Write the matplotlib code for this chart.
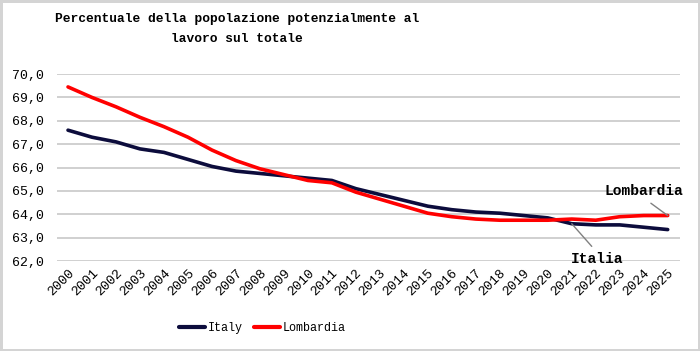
import matplotlib.pyplot as plt
from matplotlib.ticker import FuncFormatter

# Dati
anni = [str(a) for a in range(2000, 2026)]
italy = [67.6, 67.3, 67.1, 66.8, 66.65, 66.35, 66.05, 65.85, 65.75, 65.65,
         65.55, 65.45, 65.1, 64.85, 64.6, 64.35, 64.2, 64.1, 64.05, 63.95,
         63.85, 63.6, 63.55, 63.55, 63.45, 63.35]
lombardia = [69.45, 69.0, 68.6, 68.15, 67.75, 67.3, 66.75, 66.3, 65.95, 65.7,
             65.45, 65.35, 64.95, 64.65, 64.35, 64.05, 63.9, 63.8, 63.75, 63.75,
             63.75, 63.8, 63.75, 63.9, 63.95, 63.95]
y_ticks = [62, 63, 64, 65, 66, 67, 68, 69, 70]

mono = 'Liberation Mono'
x = list(range(len(anni)))

fig = plt.figure(figsize=(7, 3.51), dpi=100, edgecolor='#d4d4d4', linewidth=2.5)
ax = fig.add_axes([0.0814, 0.256, 0.8896, 0.533])

ax.plot(x, italy, color='#0c0c3c', lw=2.6, solid_capstyle='round', solid_joinstyle='round', label='Italy', zorder=3)
ax.plot(x, lombardia, color='#ff0000', lw=2.6, solid_capstyle='round', solid_joinstyle='round', label='Lombardia', zorder=3)

ax.set_xlim(-0.46, 25.5)
ax.set_ylim(62, 70)
ax.set_yticks(y_ticks)
ax.yaxis.set_major_formatter(FuncFormatter(lambda v, p: f'{v:.1f}'.replace('.', ',')))
ax.set_xticks(x)
ax.set_xticklabels(anni, rotation=45, ha='right', va='top', rotation_mode='anchor')
ax.tick_params(length=0, labelsize=9.5)
ax.tick_params(axis='y', pad=9)
ax.tick_params(axis='x', pad=4)
for lab in ax.get_xticklabels() + ax.get_yticklabels():
    lab.set_fontfamily(mono)

ax.grid(axis='y', color='#c8c8c8', lw=1.2)
ax.set_axisbelow(True)
for s in ax.spines.values():
    s.set_visible(False)

# etichette
ax.annotate('Lombardia', xy=(25, 63.95), xytext=(24.0, 65.0), ha='center', va='center',
            fontfamily=mono, fontweight='bold', fontsize=10.5,
            arrowprops=dict(arrowstyle='-', color='#808080', lw=1, relpos=(0.5, 0), shrinkA=3, shrinkB=0))
ax.annotate('Italia', xy=(21, 63.6), xytext=(22.05, 62.08), ha='center', va='center',
            fontfamily=mono, fontweight='bold', fontsize=10.5, annotation_clip=False,
            arrowprops=dict(arrowstyle='-', color='#808080', lw=1, relpos=(0.5, 1), shrinkA=3, shrinkB=0))

fig.text(0.339, 0.962, 'Percentuale della popolazione potenzialmente al\nlavoro sul totale',
         ha='center', va='top', fontfamily=mono, fontweight='bold', fontsize=9.3, linespacing=1.85)

leg = fig.legend(loc='center', bbox_to_anchor=(0.375, 0.066), ncol=2, frameon=False,
                 prop={'family': mono, 'size': 8.5}, handlelength=2.2, handletextpad=0.2,
                 columnspacing=1.0)
for h in leg.get_lines():
    h.set_linewidth(3)

fig.savefig('out.png', dpi=100, edgecolor=fig.get_edgecolor())
